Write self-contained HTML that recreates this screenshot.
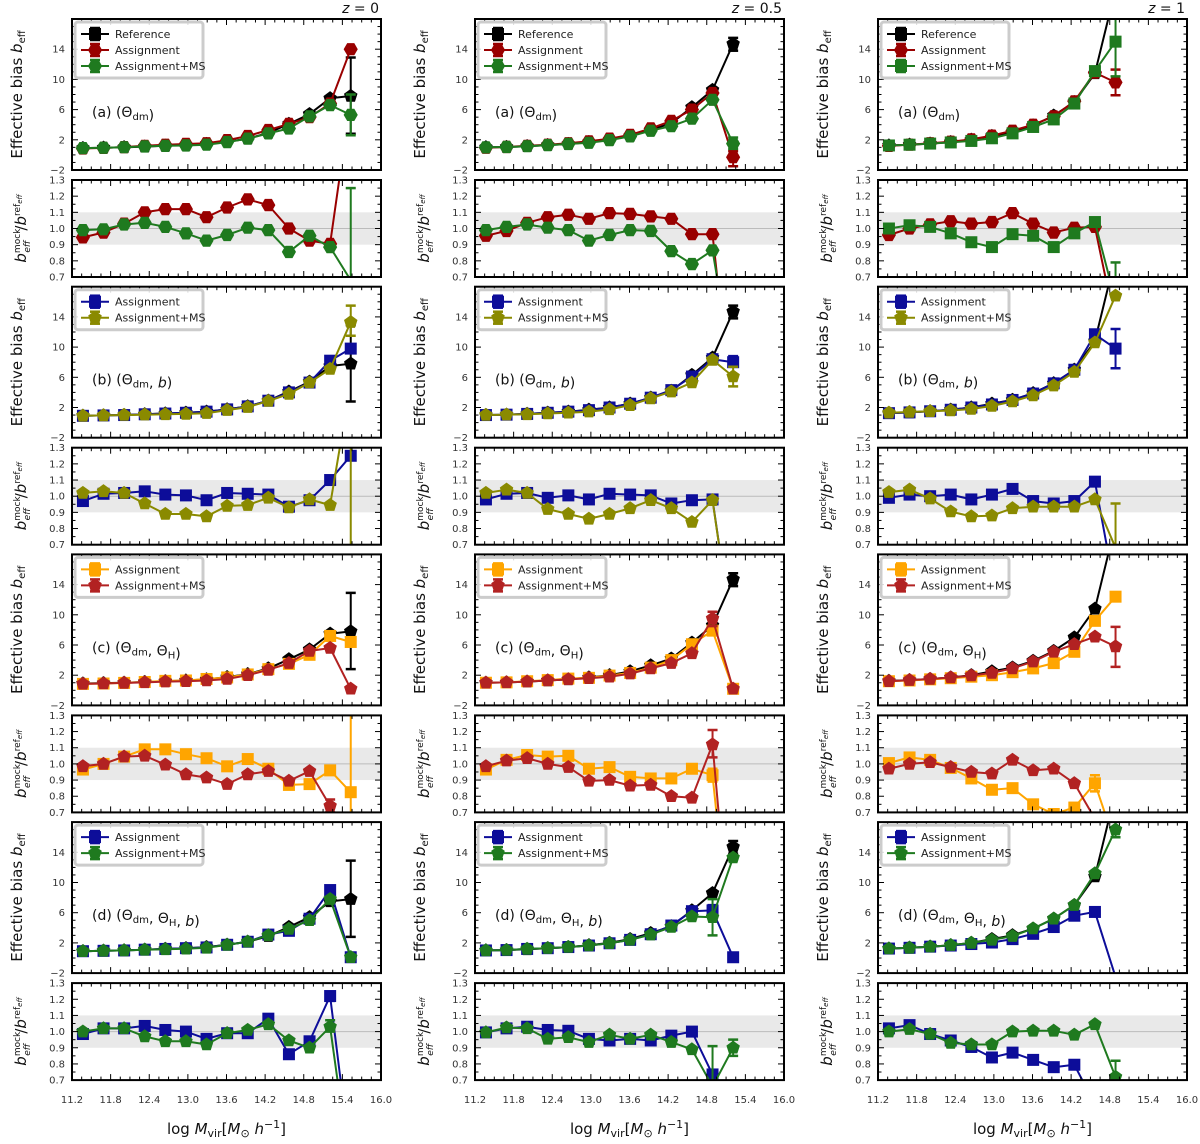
<!DOCTYPE html>
<html><head><meta charset="utf-8"><title>Effective bias</title>
<style>
html,body{margin:0;padding:0;background:#fff;overflow:hidden;width:1200px;height:1144px;}
svg{display:block;font-family:"DejaVu Sans","Liberation Sans",sans-serif;}
</style></head>
<body>
<svg id="fig" width="1200" height="1144" viewBox="0 0 1200 1144" xmlns="http://www.w3.org/2000/svg"></svg>
<script>
// ---------------- data ----------------
const bins = [11.37,11.69,12.01,12.33,12.65,12.97,13.29,13.61,13.93,14.25,14.57,14.89,15.21,15.53];
const xTicks = [11.2,11.8,12.4,13.0,13.6,14.2,14.8,15.4,16.0];
const xTickLabels = ["11.2","11.8","12.4","13.0","13.6","14.2","14.8","15.4","16.0"];
const biasTicks = [-2,2,6,10,14];
const ratioTicks = [0.7,0.8,0.9,1.0,1.1,1.2,1.3];
const ratioTickLabels = ["0.7","0.8","0.9","1.0","1.1","1.2","1.3"];
const zLabels = ["0","0.5","1"];

// z = 0
const z0_ref = [0.9,0.95,1.0,1.1,1.2,1.3,1.45,1.75,2.15,2.9,4.1,5.4,7.5,7.8];
const z0_ref_err = [[13,2.8,12.9]];
const z0_a_as_b = [0.85,0.93,1.03,1.2,1.35,1.45,1.55,1.95,2.5,3.3,4.1,5.0,6.8,14.0];
const z0_a_as_r = [0.945,0.975,1.03,1.10,1.12,1.12,1.07,1.13,1.18,1.145,1.0,0.925,0.905,1.8];
const z0_a_ms_b = [0.9,0.95,1.02,1.12,1.2,1.25,1.35,1.7,2.15,2.85,3.5,5.1,6.6,5.3];
const z0_a_ms_be = [[13,2.6,8.0]];
const z0_a_ms_r = [0.99,0.995,1.025,1.035,1.01,0.97,0.925,0.96,1.005,0.99,0.855,0.955,0.885,0.68];
const z0_a_ms_re = [[13,0.1,1.25]];
const z0_b_as_b = [0.9,0.95,1.0,1.1,1.2,1.3,1.45,1.75,2.15,2.9,4.0,5.3,8.2,9.8];
const z0_b_as_r = [0.97,1.015,1.02,1.03,1.01,1.005,0.975,1.02,1.015,1.01,0.935,0.975,1.10,1.25];
const z0_b_ms_b = [0.9,0.95,1.0,1.05,1.1,1.15,1.25,1.65,2.05,2.85,3.8,5.3,7.1,13.3];
const z0_b_ms_be = [[13,11.5,15.5]];
const z0_b_ms_r = [1.02,1.03,1.02,0.955,0.89,0.89,0.875,0.94,0.945,0.99,0.93,0.98,0.945,1.7];
const z0_b_ms_re = [[13,0.0,2.5]];
const z0_c_as_b = [0.85,0.9,0.98,1.1,1.25,1.3,1.5,1.7,2.1,2.8,3.5,4.7,7.2,6.4];
const z0_c_as_r = [0.965,1.0,1.045,1.09,1.09,1.06,1.035,0.985,1.03,0.97,0.87,0.875,0.96,0.825];
const z0_c_as_re = [[13,0.5,1.4]];
const z0_c_ms_b = [0.85,0.9,0.98,1.05,1.15,1.2,1.3,1.5,2.0,2.7,3.6,5.2,5.6,0.2];
const z0_c_ms_r = [0.985,1.0,1.045,1.05,0.995,0.935,0.915,0.875,0.935,0.955,0.895,0.955,0.74,-0.5];
const z0_c_ms_re = [[12,0.7,0.78]];
const z0_d_as_b = [0.9,0.95,1.0,1.1,1.2,1.3,1.4,1.75,2.15,3.1,3.6,5.2,9.0,0.1];
const z0_d_as_r = [0.985,1.02,1.02,1.035,1.01,1.0,0.955,0.99,0.99,1.08,0.86,0.94,1.22,0.2];
const z0_d_as_re = [[12,1.19,1.24]];
const z0_d_ms_b = [0.9,0.95,1.0,1.08,1.15,1.22,1.35,1.73,2.15,3.0,3.85,5.0,7.8,0.1];
const z0_d_ms_r = [1.0,1.02,1.02,0.97,0.94,0.94,0.92,0.99,1.01,1.045,0.945,0.9,1.03,0.1];
const z0_d_ms_re = [[12,1.0,1.07]];

// z = 0.5
const z05_ref = [1.0,1.05,1.15,1.3,1.45,1.7,2.0,2.5,3.3,4.2,6.3,8.6,14.7];
const z05_ref_err = [[12,13.8,15.5]];
const z05_a_as_b = [0.95,1.05,1.2,1.35,1.55,1.8,2.15,2.65,3.5,4.5,6.0,8.2,-0.3];
const z05_a_as_be = [[12,-1.5,0.5]];
const z05_a_as_r = [0.955,0.985,1.035,1.07,1.085,1.06,1.095,1.09,1.075,1.06,0.965,0.965,-0.2];
const z05_a_ms_b = [1.0,1.05,1.15,1.3,1.45,1.6,1.95,2.45,3.2,3.8,4.8,7.3,1.5];
const z05_a_ms_be = [[12,0.8,2.3]];
const z05_a_ms_r = [0.99,1.01,1.025,1.005,0.99,0.925,0.96,0.99,0.985,0.86,0.78,0.865,0.1];
const z05_b_as_b = [1.0,1.05,1.15,1.3,1.45,1.65,2.0,2.5,3.3,4.3,6.1,8.4,8.0];
const z05_b_as_be = [[12,7.4,8.8]];
const z05_b_as_r = [0.98,1.015,1.02,0.99,1.005,0.98,1.015,1.01,1.005,0.955,0.975,0.98,0.1];
const z05_b_ms_b = [1.0,1.05,1.1,1.2,1.3,1.45,1.75,2.3,3.2,4.1,5.3,8.3,6.1];
const z05_b_ms_be = [[12,4.8,7.4]];
const z05_b_ms_r = [1.02,1.04,1.02,0.92,0.89,0.86,0.89,0.925,0.975,0.925,0.84,0.975,0.1];
const z05_c_as_b = [1.0,1.05,1.2,1.35,1.55,1.65,1.95,2.3,3.0,4.0,6.1,7.9,0.2];
const z05_c_as_r = [0.965,1.025,1.055,1.045,1.05,0.97,0.98,0.92,0.91,0.91,0.97,0.93,-0.3];
const z05_c_as_re = [[11,0.89,0.97]];
const z05_c_ms_b = [1.0,1.05,1.15,1.3,1.45,1.6,1.8,2.2,2.9,3.6,4.9,9.5,0.2];
const z05_c_ms_be = [[11,8.5,10.4]];
const z05_c_ms_r = [0.985,1.02,1.035,1.0,0.98,0.895,0.9,0.865,0.87,0.8,0.79,1.12,-0.3];
const z05_c_ms_re = [[11,1.04,1.21]];
const z05_d_as_b = [1.0,1.05,1.2,1.3,1.45,1.65,1.95,2.4,3.15,4.3,6.2,6.3,0.1];
const z05_d_as_be = [[11,5.6,7.0]];
const z05_d_as_r = [0.995,1.02,1.03,1.01,1.005,0.955,0.945,0.955,0.945,0.975,1.0,0.735,-0.5];
const z05_d_ms_b = [1.0,1.05,1.2,1.3,1.45,1.65,1.95,2.4,3.1,4.1,5.5,5.4,13.3];
const z05_d_ms_be = [[11,3.0,7.8]];
const z05_d_ms_r = [0.995,1.025,1.02,0.955,0.965,0.935,0.98,0.955,0.98,0.935,0.89,0.66,0.9];
const z05_d_ms_re = [[11,0.6,0.91],[12,0.85,0.95]];

// z = 1
const z1_ref = [1.25,1.35,1.5,1.7,2.0,2.5,3.0,3.9,5.2,7.0,10.8,22];
const z1_ref_err = [];
const z1_a_as_b = [1.2,1.35,1.55,1.75,2.05,2.55,3.2,4.0,5.1,7.1,10.9,9.6];
const z1_a_as_be = [[11,7.9,11.3]];
const z1_a_as_r = [0.96,1.0,1.025,1.045,1.03,1.04,1.095,1.03,0.975,1.005,1.01,0.4];
const z1_a_ms_b = [1.25,1.35,1.5,1.65,1.85,2.2,2.85,3.7,4.7,6.8,11.1,15.0];
const z1_a_ms_be = [[11,10.4,20]];
const z1_a_ms_r = [1.0,1.02,1.01,0.97,0.915,0.885,0.965,0.955,0.885,0.97,1.04,0.55];
const z1_a_ms_re = [[11,0.5,0.79]];
const z1_b_as_b = [1.25,1.35,1.5,1.7,2.0,2.4,3.0,3.85,5.2,7.0,11.7,9.8];
const z1_b_as_be = [[11,7.2,12.4]];
const z1_b_as_r = [0.99,1.01,1.0,1.01,0.98,1.01,1.045,0.97,0.955,0.97,1.09,0.4];
const z1_b_ms_b = [1.3,1.4,1.5,1.6,1.8,2.2,2.8,3.6,4.9,6.7,10.6,16.8];
const z1_b_ms_r = [1.025,1.04,0.985,0.905,0.875,0.88,0.925,0.935,0.935,0.935,0.98,0.68];
const z1_b_ms_re = [[11,0.6,0.955]];
const z1_c_as_b = [1.2,1.3,1.45,1.6,1.8,2.0,2.4,2.9,3.6,5.1,9.2,12.4];
const z1_c_as_r = [1.005,1.04,1.025,0.975,0.91,0.84,0.85,0.75,0.69,0.73,0.88,0.5];
const z1_c_as_re = [[10,0.83,0.93]];
const z1_c_ms_b = [1.2,1.35,1.5,1.7,1.95,2.3,2.9,3.8,5.1,6.1,7.1,5.8];
const z1_c_ms_be = [[11,3.1,8.4]];
const z1_c_ms_r = [0.97,1.0,1.01,0.98,0.95,0.94,1.025,0.96,0.97,0.88,0.66,0.5];
const z1_d_as_b = [1.25,1.35,1.5,1.65,1.85,2.05,2.5,3.2,4.1,5.6,6.1,-2.5];
const z1_d_as_r = [1.02,1.04,0.985,0.945,0.905,0.84,0.87,0.825,0.78,0.795,0.55,-1];
const z1_d_ms_b = [1.25,1.35,1.5,1.7,2.0,2.4,2.9,3.9,5.2,7.0,11.2,17.0];
const z1_d_ms_be = [[11,16,19]];
const z1_d_ms_r = [1.0,1.015,0.985,0.93,0.92,0.92,1.0,1.005,1.005,0.98,1.045,0.72];
const z1_d_ms_re = [[11,0.7,0.82]];

// ---------------- layout ----------------
const NS = "http://www.w3.org/2000/svg";
const svg = document.getElementById('fig');
const X0 = [72,475,878], AW = 309;
const BIAS_TOP = 19, BIAS_H = 151, RATIO_TOP = 180, RATIO_H = 97, ROW = 267.7;
const BMIN = -2, BMAX = 18, RMIN = 0.7, RMAX = 1.3, XMIN = 11.2, XMAX = 16.0;

const COL = {black:"#000000", red:"#990000", green:"#1f7a1f", blue:"#0d0d99", olive:"#8a8a00", orange:"#ffa500", crimson:"#b22222"};

function xs(v,c){ return X0[c] + (v-XMIN)/(XMAX-XMIN)*AW; }
function yb(v,r){ return BIAS_TOP + r*ROW + (BMAX-v)/(BMAX-BMIN)*BIAS_H; }
function yr(v,r){ return RATIO_TOP + r*ROW + (RMAX-v)/(RMAX-RMIN)*RATIO_H; }

function mk(tag, attrs, parent){
  const e = document.createElementNS(NS, tag);
  for (const k in attrs) e.setAttribute(k, attrs[k]);
  (parent||svg).appendChild(e);
  return e;
}

const columns = [
  {ref:z0_ref, refErr:z0_ref_err, panels:[
    {label:"a", s:[{n:"Assignment",c:"red",m:"hex",b:z0_a_as_b,r:z0_a_as_r},{n:"Assignment+MS",c:"green",m:"hex",b:z0_a_ms_b,be:z0_a_ms_be,r:z0_a_ms_r,re:z0_a_ms_re}]},
    {label:"b", s:[{n:"Assignment",c:"blue",m:"sq",b:z0_b_as_b,r:z0_b_as_r},{n:"Assignment+MS",c:"olive",m:"pent",b:z0_b_ms_b,be:z0_b_ms_be,r:z0_b_ms_r,re:z0_b_ms_re}]},
    {label:"c", s:[{n:"Assignment",c:"orange",m:"sq",b:z0_c_as_b,r:z0_c_as_r,re:z0_c_as_re},{n:"Assignment+MS",c:"crimson",m:"pent",b:z0_c_ms_b,r:z0_c_ms_r,re:z0_c_ms_re}]},
    {label:"d", s:[{n:"Assignment",c:"blue",m:"sq",b:z0_d_as_b,r:z0_d_as_r,re:z0_d_as_re},{n:"Assignment+MS",c:"green",m:"pent",b:z0_d_ms_b,r:z0_d_ms_r,re:z0_d_ms_re}]}
  ]},
  {ref:z05_ref, refErr:z05_ref_err, panels:[
    {label:"a", s:[{n:"Assignment",c:"red",m:"hex",b:z05_a_as_b,be:z05_a_as_be,r:z05_a_as_r},{n:"Assignment+MS",c:"green",m:"hex",b:z05_a_ms_b,be:z05_a_ms_be,r:z05_a_ms_r}]},
    {label:"b", s:[{n:"Assignment",c:"blue",m:"sq",b:z05_b_as_b,be:z05_b_as_be,r:z05_b_as_r},{n:"Assignment+MS",c:"olive",m:"pent",b:z05_b_ms_b,be:z05_b_ms_be,r:z05_b_ms_r}]},
    {label:"c", s:[{n:"Assignment",c:"orange",m:"sq",b:z05_c_as_b,r:z05_c_as_r,re:z05_c_as_re},{n:"Assignment+MS",c:"crimson",m:"pent",b:z05_c_ms_b,be:z05_c_ms_be,r:z05_c_ms_r,re:z05_c_ms_re}]},
    {label:"d", s:[{n:"Assignment",c:"blue",m:"sq",b:z05_d_as_b,be:z05_d_as_be,r:z05_d_as_r},{n:"Assignment+MS",c:"green",m:"pent",b:z05_d_ms_b,be:z05_d_ms_be,r:z05_d_ms_r,re:z05_d_ms_re}]}
  ]},
  {ref:z1_ref, refErr:z1_ref_err, panels:[
    {label:"a", s:[{n:"Assignment",c:"red",m:"hex",b:z1_a_as_b,be:z1_a_as_be,r:z1_a_as_r},{n:"Assignment+MS",c:"green",m:"sq",b:z1_a_ms_b,be:z1_a_ms_be,r:z1_a_ms_r,re:z1_a_ms_re}]},
    {label:"b", s:[{n:"Assignment",c:"blue",m:"sq",b:z1_b_as_b,be:z1_b_as_be,r:z1_b_as_r},{n:"Assignment+MS",c:"olive",m:"pent",b:z1_b_ms_b,r:z1_b_ms_r,re:z1_b_ms_re}]},
    {label:"c", s:[{n:"Assignment",c:"orange",m:"sq",b:z1_c_as_b,r:z1_c_as_r,re:z1_c_as_re},{n:"Assignment+MS",c:"crimson",m:"pent",b:z1_c_ms_b,be:z1_c_ms_be,r:z1_c_ms_r}]},
    {label:"d", s:[{n:"Assignment",c:"blue",m:"sq",b:z1_d_as_b,r:z1_d_as_r},{n:"Assignment+MS",c:"green",m:"pent",b:z1_d_ms_b,be:z1_d_ms_be,r:z1_d_ms_r,re:z1_d_ms_re}]}
  ]}
];

const panelTitles = {
  a:[["(a) (Θ",""],["dm","sub"],[")",""]],
  b:[["(b) (Θ",""],["dm","sub"],[", ",""],["b","it"],[")",""]],
  c:[["(c) (Θ",""],["dm","sub"],[", Θ",""],["H","sub"],[")",""]],
  d:[["(d) (Θ",""],["dm","sub"],[", Θ",""],["H","sub"],[", ",""],["b","it"],[")",""]]
};

let clipId = 0;
function clip(x,y,w,h){
  const id = "clip"+(clipId++);
  const cp = mk('clipPath',{id:id});
  mk('rect',{x:x,y:y,width:w,height:h},cp);
  return id;
}

function marker(g, shape, x, y, color){
  let e;
  if (shape==="sq"){
    e = mk('rect',{x:x-5.5,y:y-5.5,width:11,height:11,fill:color,stroke:color,'stroke-width':1},g);
  } else {
    const n = shape==="hex"?6:5, R = 6.5, pts=[];
    for (let i=0;i<n;i++){ const a = -Math.PI/2 + i*2*Math.PI/n + (n===6?Math.PI/6:0); pts.push((x+R*Math.cos(a)).toFixed(1)+","+(y+R*Math.sin(a)).toFixed(1)); }
    e = mk('polygon',{points:pts.join(" "),fill:color,stroke:color,'stroke-width':1},g);
  }
  
  
}

function errbar(g, x, y1, y2, color, ymin, ymax){
  if (ymin===undefined){ ymin=-1e9; ymax=1e9; }
  const a = Math.min(y1,y2), b = Math.max(y1,y2);
  const ca = Math.max(a,ymin), cb = Math.min(b,ymax);
  if (cb<=ca) return;
  mk('line',{x1:x,x2:x,y1:ca,y2:cb,stroke:color,'stroke-width':2},g);
  if (a>=ymin && a<=ymax) mk('line',{x1:x-5,x2:x+5,y1:a,y2:a,stroke:color,'stroke-width':2.5},g);
  if (b>=ymin && b<=ymax) mk('line',{x1:x-5,x2:x+5,y1:b,y2:b,stroke:color,'stroke-width':2.5},g);
}

// clip segment in pixel space to [ymin,ymax]
function clipSeg(x1,y1,x2,y2,ymin,ymax){
  let t0=0,t1=1; const dy=y2-y1;
  if (dy===0){ if (y1<ymin||y1>ymax) return null; return [x1,y1,x2,y2]; }
  let ta=(ymin-y1)/dy, tb=(ymax-y1)/dy;
  if (ta>tb){ const t=ta; ta=tb; tb=t; }
  t0=Math.max(t0,ta); t1=Math.min(t1,tb);
  if (t1<=t0) return null;
  return [x1+(x2-x1)*t0, y1+dy*t0, x1+(x2-x1)*t1, y1+dy*t1];
}

function series(parent, vals, errs, c, r, yfn, color, shape, name, ymin, ymax){
  const g = mk('g',{},parent);
  
  
  for (let i=0;i<vals.length-1;i++){
    const s = clipSeg(xs(bins[i],c), yfn(vals[i],r), xs(bins[i+1],c), yfn(vals[i+1],r), ymin, ymax);
    if (s) mk('line',{x1:s[0].toFixed(1),y1:s[1].toFixed(1),x2:s[2].toFixed(1),y2:s[3].toFixed(1),stroke:color,'stroke-width':2,'stroke-linecap':'round'},g);
  }
  (errs||[]).forEach(e=>errbar(g, xs(bins[e[0]],c), yfn(e[1],r), yfn(e[2],r), color, ymin, ymax));
  vals.forEach((v,i)=>{ const y = yfn(v,r); if (y>=ymin-3 && y<=ymax+3) marker(g, shape, xs(bins[i],c), y, color); });
}

function ticksX(g, c, top, h, labels){
  for (let v=XMIN; v<=XMAX+1e-6; v+=0.15){
    const x = xs(v,c);
    const major = Math.abs(((v-XMIN)/0.6) - Math.round((v-XMIN)/0.6))<1e-3;
    const len = major?6:3.5;
    mk('line',{x1:x,x2:x,y1:top+h,y2:top+h-len,stroke:"#000",'stroke-width':1},g);
    mk('line',{x1:x,x2:x,y1:top,y2:top+len,stroke:"#000",'stroke-width':1},g);
  }
  if (labels){
    xTicks.forEach((v,i)=>{
      const t = mk('text',{x:xs(v,c),y:top+h+23,'font-size':10,fill:"#333",'text-anchor':"middle"},g);
      t.textContent = xTickLabels[i];
      
      
    });
  }
}

function ticksY(g, c, yfn, r, minor, majors, labs, lo, hi){
  const l = X0[c], rgt = X0[c]+AW;
  for (let v=lo; v<=hi+1e-6; v+=minor){
    const y = yfn(v,r);
    const isMaj = majors.some(m=>Math.abs(m-v)<1e-6);
    const len = isMaj?6:3.5;
    mk('line',{x1:l,x2:l+len,y1:y,y2:y,stroke:"#000",'stroke-width':1},g);
    mk('line',{x1:rgt,x2:rgt-len,y1:y,y2:y,stroke:"#000",'stroke-width':1},g);
  }
  majors.forEach((v,i)=>{
    const t = mk('text',{x:l-7,y:yfn(v,r)+3.5,'font-size':10,fill:"#333",'text-anchor':"end"},g);
    t.textContent = labs[i];
    
    
  });
}

function legend(g, c, r, entries){
  const lx = X0[c]+3, ly = BIAS_TOP + r*ROW + 3;
  const h = entries.length*16 + 8;
  const bx = mk('rect',{x:lx,y:ly,width:128,height:h,rx:3,fill:"rgba(255,255,255,0.85)",stroke:"#cccccc",'stroke-width':3},g);
  
  
  entries.forEach((e,i)=>{
    const yy = ly + 12 + i*16;
    const eg = mk('g',{},g);
    
    
    mk('line',{x1:lx+6,x2:lx+34,y1:yy,y2:yy,stroke:COL[e.c],'stroke-width':2},eg);
    errbar(eg, lx+20, yy-6, yy+6, COL[e.c]);
    marker(eg, e.m, lx+20, yy, COL[e.c]);
    const t = mk('text',{x:lx+40,y:yy+4,'font-size':11,fill:"#222"},eg);
    t.textContent = e.n;
  });
}

function titleText(g, x, y, parts, size){
  const t = mk('text',{x:x,y:y,'font-size':size,fill:"#111"},g);
  parts.forEach(p=>{
    const ts = document.createElementNS(NS,'tspan');
    ts.textContent = p[0];
    if (p[1]==="sub"){ ts.setAttribute('font-size', size*0.72); ts.setAttribute('dy', 3); }
    else if (p[1]==="it"){ ts.setAttribute('font-style','italic'); }
    t.appendChild(ts);
    if (p[1]==="sub"){ const back = document.createElementNS(NS,'tspan'); back.setAttribute('dy',-3); back.textContent=""; t.appendChild(back); }
  });
  return t;
}

columns.forEach((col, c)=>{
  const cg = mk('g',{});
  
  
  const zt = mk('text',{x:X0[c]+AW-2,y:13,'font-size':14,fill:"#111",'text-anchor':"end"},cg);
  
  
  const zi = document.createElementNS(NS,'tspan'); zi.setAttribute('font-style','italic'); zi.textContent='z'; zt.appendChild(zi);
  const zr = document.createElementNS(NS,'tspan'); zr.textContent=' = '+zLabels[c]; zt.appendChild(zr);

  col.panels.forEach((p, r)=>{
    const bt = BIAS_TOP + r*ROW;
    const pg = mk('g',{},cg);
    
    
    const cid = clip(X0[c], bt, AW, BIAS_H);
    const dg = mk('g',{'clip-path':'url(#'+cid+')'},pg);
    series(dg, col.ref, col.refErr, c, r, yb, COL.black, "pent", "reference-series", bt, bt+BIAS_H);
    p.s.forEach(s=>series(dg, s.b, s.be, c, r, yb, COL[s.c], s.m, (s.n==="Assignment"?"assignment":"assignment-ms")+"-bias-series", bt, bt+BIAS_H));
    ticksY(pg, c, yb, r, 1, biasTicks, ["\u22122","2","6","10","14"], BMIN, BMAX);
    ticksX(pg, c, bt, BIAS_H, false);
    const fr = mk('rect',{x:X0[c],y:bt,width:AW,height:BIAS_H,fill:"none",stroke:"#000",'stroke-width':2},pg);
    
    
    const ents = (p.label==="a"?[{n:"Reference",c:"black",m:"sq"}]:[]).concat(p.s.map(s=>({n:s.n,c:s.c,m:s.m})));
    legend(pg, c, r, ents);
    const pt = titleText(pg, X0[c]+20, bt+98, panelTitles[p.label], 14);
    
    
    const yl = mk('text',{transform:"translate("+(X0[c]-50)+","+(bt+BIAS_H/2)+") rotate(-90)",'font-size':15,fill:"#111",'text-anchor':"middle"},pg);
    
    
    const t1 = document.createElementNS(NS,'tspan'); t1.textContent="Effective bias "; yl.appendChild(t1);
    const t2 = document.createElementNS(NS,'tspan'); t2.setAttribute('font-style','italic'); t2.textContent="b"; yl.appendChild(t2);
    const t3 = document.createElementNS(NS,'tspan'); t3.setAttribute('font-size',10); t3.setAttribute('dy',3); t3.textContent="eff"; yl.appendChild(t3);

    const rt = RATIO_TOP + r*ROW;
    const rg = mk('g',{},cg);
    
    
    const band = mk('rect',{x:X0[c],y:yr(1.1,r),width:AW,height:yr(0.9,r)-yr(1.1,r),fill:"#e9e9e9"},rg);
    
    
    mk('line',{x1:X0[c],x2:X0[c]+AW,y1:yr(1.0,r),y2:yr(1.0,r),stroke:"#bbbbbb",'stroke-width':1},rg);
    const cid2 = clip(X0[c], rt, AW, RATIO_H);
    const dg2 = mk('g',{'clip-path':'url(#'+cid2+')'},rg);
    p.s.forEach(s=>series(dg2, s.r, s.re, c, r, yr, COL[s.c], s.m, (s.n==="Assignment"?"assignment":"assignment-ms")+"-ratio-series", rt, rt+RATIO_H));
    ticksY(rg, c, yr, r, 0.05, ratioTicks, ratioTickLabels, RMIN, RMAX);
    ticksX(rg, c, rt, RATIO_H, r===3);
    const fr2 = mk('rect',{x:X0[c],y:rt,width:AW,height:RATIO_H,fill:"none",stroke:"#000",'stroke-width':2},rg);
    
    
    const rl = mk('text',{transform:"translate("+(X0[c]-46)+","+(rt+RATIO_H/2)+") rotate(-90)",'font-size':15,fill:"#111",'text-anchor':"middle"},rg);
    
    
    const a1 = document.createElementNS(NS,'tspan'); a1.setAttribute('font-style','italic'); a1.textContent="b"; rl.appendChild(a1);
    const a2 = document.createElementNS(NS,'tspan'); a2.setAttribute('font-size',9); a2.setAttribute('dy',-6); a2.textContent="mock"; rl.appendChild(a2);
    const a3 = document.createElementNS(NS,'tspan'); a3.setAttribute('font-size',9); a3.setAttribute('font-style','italic'); a3.setAttribute('dx',-24); a3.setAttribute('dy',10); a3.textContent="eff"; rl.appendChild(a3);
    const a4 = document.createElementNS(NS,'tspan'); a4.setAttribute('dx',10); a4.setAttribute('dy',-4); a4.textContent="/"; rl.appendChild(a4);
    const a5 = document.createElementNS(NS,'tspan'); a5.setAttribute('font-style','italic'); a5.textContent="b"; rl.appendChild(a5);
    const a6 = document.createElementNS(NS,'tspan'); a6.setAttribute('font-size',9); a6.setAttribute('dy',-6); a6.textContent="ref"; rl.appendChild(a6);
    const a7 = document.createElementNS(NS,'tspan'); a7.setAttribute('font-size',7); a7.setAttribute('font-style','italic'); a7.setAttribute('dy',2); a7.textContent="eff"; rl.appendChild(a7);
  });

  const xt = mk('text',{x:X0[c]+AW/2,y:1134,'font-size':15,fill:"#111",'text-anchor':"middle"},cg);
  
  
  const x1 = document.createElementNS(NS,'tspan'); x1.textContent="log "; xt.appendChild(x1);
  const x2 = document.createElementNS(NS,'tspan'); x2.setAttribute('font-style','italic'); x2.textContent="M"; xt.appendChild(x2);
  const x3 = document.createElementNS(NS,'tspan'); x3.setAttribute('font-size',11); x3.setAttribute('dy',3); x3.textContent="vir"; xt.appendChild(x3);
  const x4 = document.createElementNS(NS,'tspan'); x4.setAttribute('dy',-3); x4.textContent="["; xt.appendChild(x4);
  const x5 = document.createElementNS(NS,'tspan'); x5.setAttribute('font-style','italic'); x5.textContent="M"; xt.appendChild(x5);
  const x6 = document.createElementNS(NS,'tspan'); x6.setAttribute('font-size',11); x6.setAttribute('dy',3); x6.textContent="\u2299"; xt.appendChild(x6);
  const x7 = document.createElementNS(NS,'tspan'); x7.setAttribute('dy',-3); x7.setAttribute('font-style','italic'); x7.textContent=" h"; xt.appendChild(x7);
  const x8 = document.createElementNS(NS,'tspan'); x8.setAttribute('font-size',11); x8.setAttribute('dy',-6); x8.textContent="\u22121"; xt.appendChild(x8);
  const x9 = document.createElementNS(NS,'tspan'); x9.setAttribute('dy',6); x9.textContent="]"; xt.appendChild(x9);
});
</script>
</body></html>
